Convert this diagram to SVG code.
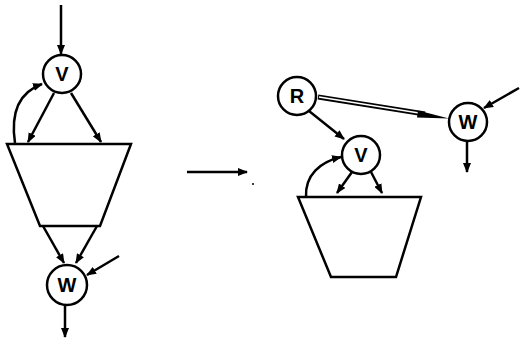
<svg xmlns="http://www.w3.org/2000/svg" width="522" height="347" viewBox="0 0 522 347">
<style>
.c{fill:#fff;stroke:#000;stroke-width:2.5}
.s{fill:none;stroke:#000;stroke-width:2.5}
.t{font-family:"Liberation Sans",Arial,sans-serif;font-weight:bold;font-size:20px;text-anchor:middle;fill:#000}
</style>
<defs>
<marker id="a" viewBox="0 0 10 8" refX="9" refY="4" markerWidth="10" markerHeight="8" markerUnits="userSpaceOnUse" orient="auto">
<path d="M0,0 L10,4 L0,8 Z" fill="#000"/>
</marker>
</defs>
<rect width="522" height="347" fill="#fff"/>
<g id="connectors">
<line class="s" x1="61" y1="5" x2="61" y2="54" marker-end="url(#a)"/>
<line class="s" x1="54" y1="93" x2="28" y2="142" marker-end="url(#a)"/>
<line class="s" x1="71" y1="93" x2="101" y2="142" marker-end="url(#a)"/>
<path class="s" d="M15,143 C10,110 20,92 42,84" marker-end="url(#a)"/>
<line class="s" x1="43" y1="226" x2="64" y2="263" marker-end="url(#a)"/>
<line class="s" x1="97" y1="226" x2="76" y2="263" marker-end="url(#a)"/>
<line class="s" x1="119" y1="256" x2="87" y2="275" marker-end="url(#a)"/>
<line class="s" x1="65" y1="305" x2="65" y2="337" marker-end="url(#a)"/>
<line class="s" x1="187" y1="172" x2="247" y2="172" marker-end="url(#a)"/>
<circle cx="253" cy="184" r="1" fill="#000"/>
<line x1="318" y1="97" x2="425" y2="114" stroke="#000" stroke-width="5"/>
<line x1="319" y1="97" x2="422" y2="113.5" stroke="#fff" stroke-width="1.6"/>
<path d="M418,110.5 L449,118.5 L417,117.5 Z" fill="#000"/>
<line class="s" x1="309" y1="111" x2="344" y2="139" marker-end="url(#a)"/>
<line class="s" x1="519" y1="88" x2="484" y2="108" marker-end="url(#a)"/>
<line class="s" x1="467" y1="141" x2="467" y2="172" marker-end="url(#a)"/>
<line class="s" x1="352" y1="172" x2="337" y2="193" marker-end="url(#a)"/>
<line class="s" x1="371" y1="172" x2="382" y2="193" marker-end="url(#a)"/>
<path class="s" d="M306,197 C305,175 320,162 341,157" marker-end="url(#a)"/>
</g>
<g id="trap1"><path class="c" d="M7,144 L131,144 L100,226 L40,226 Z"/></g>
<g id="trap2"><path class="c" d="M298,197 L421,197 L396,277 L331,277 Z"/></g>
<g id="V1"><circle class="c" cx="62" cy="74" r="19"/><text class="t" x="62" y="81">V</text></g>
<g id="W1"><circle class="c" cx="67" cy="285" r="20"/><text class="t" x="67" y="292">W</text></g>
<g id="R"><circle class="c" cx="297" cy="96" r="19"/><text class="t" x="297" y="103">R</text></g>
<g id="W2"><circle class="c" cx="468" cy="122" r="19"/><text class="t" x="468" y="129">W</text></g>
<g id="V2"><circle class="c" cx="361" cy="155" r="19"/><text class="t" x="361" y="162">V</text></g>
</svg>
